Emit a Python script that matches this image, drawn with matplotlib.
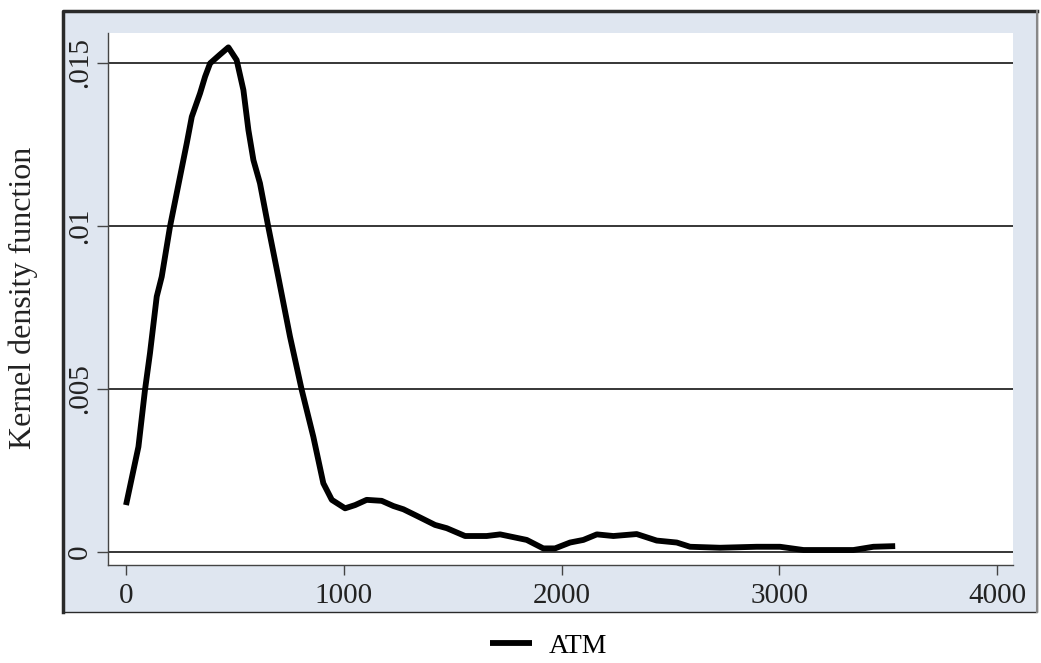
import matplotlib
matplotlib.use("Agg")
import matplotlib.pyplot as plt
from matplotlib.patches import Rectangle
from matplotlib.lines import Line2D

plt.rcParams['font.family'] = ['Liberation Serif', 'DejaVu Serif']

# kernel density estimate
atm_x = [0, 57, 87, 110, 141, 164, 202, 248, 279, 302, 340, 363, 386, 430, 470,
         508, 539, 562, 585, 615, 653, 699, 753, 807, 860, 906, 945, 1006, 1052,
         1105, 1174, 1228, 1274, 1335, 1419, 1473, 1557, 1656, 1718, 1840, 1916,
         1970, 2039, 2100, 2162, 2238, 2345, 2437, 2529, 2590, 2728, 2896, 3003,
         3111, 3340, 3432, 3532]
atm_y = [0.00143, 0.00322, 0.00496, 0.00609, 0.00783, 0.00844, 0.00998, 0.01151,
         0.01254, 0.01335, 0.01407, 0.01458, 0.01499, 0.01525, 0.01548,
         0.01509, 0.01417, 0.01294, 0.01202, 0.01131, 0.00998, 0.00844, 0.0066,
         0.00496, 0.00353, 0.0021, 0.00159, 0.00133, 0.00143,
         0.00159, 0.00156, 0.0014, 0.0013, 0.0011, 0.00082, 0.00072, 0.00048,
         0.00048, 0.00053, 0.00036, 0.0001,
         0.0001, 0.00028, 0.00036, 0.00053, 0.00048, 0.00054, 0.00034, 0.00028,
         0.00015, 0.00012, 0.00015, 0.00015,
         0.00005, 0.00005, 0.00015, 0.00017]

y_ticks = [0, 0.005, 0.01, 0.015]
y_labels = ['0', '.005', '.01', '.015']
x_ticks = [0, 1000, 2000, 3000, 4000]

fig = plt.figure(figsize=(10.41, 6.63), dpi=100)

# light blue-grey graph region, kept behind the axes
panel = Rectangle((0.0605, 0.0769), 0.9357, 0.9065, transform=fig.transFigure,
                  facecolor='#dfe6f0', edgecolor='#2a2a2a', lw=1.0, zorder=-10)
fig.patches.append(panel)
fig.lines.append(Line2D([0.0605, 0.0605, 0.9962], [0.0769, 0.9834, 0.9834],
                        transform=fig.transFigure, color='#2a2a2a', lw=2.5,
                        zorder=-5))
fig.lines.append(Line2D([0.9962, 0.9962], [0.0769, 0.9834],
                        transform=fig.transFigure, color='#888888', lw=1.5,
                        zorder=-5))

ax = fig.add_axes([0.1037, 0.1478, 0.8694, 0.8024])
ax.set_facecolor('white')

for yt in y_ticks:
    ax.axhline(yt, color='black', lw=1.1, zorder=1)

ax.plot(atm_x, atm_y, color='black', lw=4.2, solid_capstyle='butt',
        solid_joinstyle='round', label='ATM', zorder=3)

ax.set_xlim(-83, 4073)
ax.set_ylim(-0.00041, 0.01592)
ax.set_xticks(x_ticks)
ax.set_yticks(y_ticks)
ax.set_yticklabels(y_labels, rotation=90, va='center')

ax.tick_params(axis='both', colors='#444444', labelcolor='#222222',
               labelsize=21, width=1)
ax.tick_params(axis='y', length=8, pad=3)
ax.tick_params(axis='x', length=7, pad=6)

for side in ['top', 'right']:
    ax.spines[side].set_visible(False)
for side in ['left', 'bottom']:
    ax.spines[side].set_color('#444444')
    ax.spines[side].set_linewidth(1)

fig.text(0.022, 1 - 298 / 663, 'Kernel density function', rotation=90,
         va='center', ha='center', fontsize=23, color='#222222')

fig.legend(loc='center', bbox_to_anchor=(0.527, 1 - 646 / 663), frameon=False,
           fontsize=20, handlelength=1.5, handletextpad=0.6)

fig.savefig('out.png', dpi=100)
